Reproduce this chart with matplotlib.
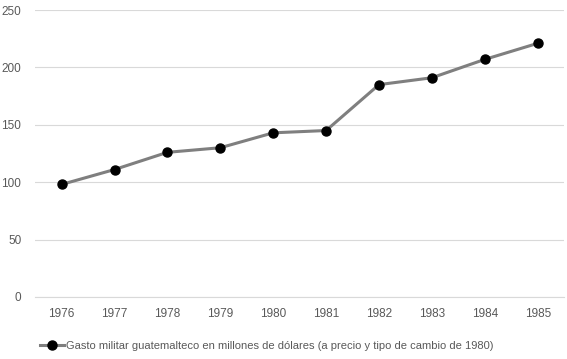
import matplotlib
matplotlib.use("Agg")
import matplotlib.pyplot as plt

years = ["1976", "1977", "1978", "1979", "1980", "1981", "1982", "1983", "1984", "1985"]
gasto = [98, 111, 126, 130, 143, 145, 185, 191, 207, 221]
yticks = [0, 50, 100, 150, 200, 250]
label = "Gasto militar guatemalteco en millones de dólares (a precio y tipo de cambio de 1980)"

plt.rcParams['font.family'] = ['Liberation Sans', 'DejaVu Sans']

fig = plt.figure(figsize=(5.67, 3.59), dpi=100)
ax = fig.add_axes([0.062, 0.173, 0.933, 0.799])

x = list(range(len(years)))
ax.plot(x, gasto, color="#7f7f7f", linewidth=2.2, marker="o", markersize=6.5,
        markerfacecolor="black", markeredgecolor="black", label=label)

ax.set_xlim(-0.5, len(years) - 0.5)
ax.set_ylim(0, 250)
ax.set_yticks(yticks)
ax.set_xticks(x)
ax.set_xticklabels(years)
ax.grid(axis="y", color="#d9d9d9", linewidth=0.8)
ax.set_axisbelow(True)
for s in ["top", "right", "left"]:
    ax.spines[s].set_visible(False)
ax.spines["bottom"].set_color("#d9d9d9")
ax.tick_params(axis="both", length=0, colors="#595959", labelsize=8.5)
ax.tick_params(axis="x", pad=8)
ax.tick_params(axis="y", pad=10)

fig.legend(loc="lower center", bbox_to_anchor=(0.47, -0.005), frameon=False,
           fontsize=8, labelcolor="#595959", handlelength=2.2, handletextpad=0.1)

fig.savefig("out.png", dpi=100)
